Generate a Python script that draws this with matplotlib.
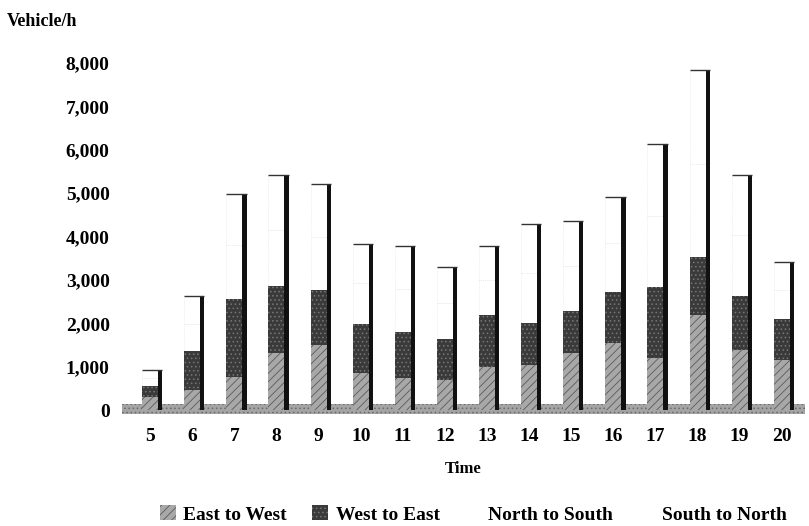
import matplotlib
matplotlib.use("Agg")
import matplotlib.pyplot as plt
import numpy as np
from matplotlib.patches import Patch

hours = ["5", "6", "7", "8", "9", "10", "11", "12", "13", "14", "15", "16", "17", "18", "19", "20"]
east_to_west = [310, 460, 770, 1310, 1500, 850, 730, 690, 1000, 1040, 1310, 1540, 1190, 2200, 1390, 1150]
west_to_east = [240, 900, 1790, 1550, 1260, 1130, 1070, 960, 1190, 970, 980, 1190, 1640, 1330, 1240, 940]
north_to_south = [190, 620, 1240, 1300, 1230, 950, 1000, 830, 820, 1150, 1040, 1120, 1650, 2150, 1400, 680]
south_to_north = [180, 650, 1190, 1250, 1230, 890, 990, 820, 780, 1140, 1020, 1070, 1660, 2150, 1390, 650]
yticks = [0, 1000, 2000, 3000, 4000, 5000, 6000, 7000, 8000]

plt.rcParams['font.family'] = ['Liberation Serif', 'DejaVu Serif']
plt.rcParams['hatch.linewidth'] = 0.6

fig = plt.figure(figsize=(8.09, 5.26), dpi=100)
ax = fig.add_axes([0.151, 0.208, 0.844, 0.705])

x = np.arange(len(hours))
w = 0.38
side = 0.10

ew = np.array(east_to_west)
we = np.array(west_to_east)
ns = np.array(north_to_south)
sn = np.array(south_to_north)
b1 = ew
b2 = ew + we
b3 = b2 + ns
total = b3 + sn

# floor
ax.axhspan(-80, 130, facecolor='#a4a4a4', edgecolor='#6a6a6a', hatch='....', lw=0, zorder=0)

ax.bar(x, ew, w, color='#a8a8a8', edgecolor='#5a5a5a', hatch='////', lw=0, zorder=3)
ax.bar(x, we, w, bottom=b1, color='#3a3a3a', edgecolor='#777777', hatch='....', lw=0, zorder=3)
ax.bar(x, ns, w, bottom=b2, color='white', edgecolor='#e2e2e2', lw=0.5, ls=':', zorder=2)
ax.bar(x, sn, w, bottom=b3, color='white', edgecolor='#e2e2e2', lw=0.5, ls=':', zorder=2)
# 3D side face of each column
ax.bar(x + w / 2 + side / 2, total, side, color='#111111', lw=0, zorder=3)
# top edge
ax.hlines(total, x - w / 2, x + w / 2 + side, color='#333333', lw=1.0, zorder=3)

ax.set_xlim(-0.665, 15.55)
ax.set_ylim(-150, 8400)
ax.set_yticks(yticks)
ax.set_yticklabels([f"{v:,}" for v in yticks], fontsize=14, fontweight='bold')
ax.set_xticks(x)
ax.set_xticklabels(hours, fontsize=14, fontweight='bold')
ax.tick_params(length=0, pad=8)
ax.tick_params(axis='y', pad=9)
for s in ax.spines.values():
    s.set_visible(False)

ax.set_xlabel("Time", fontsize=12, fontweight='bold', labelpad=12)
fig.text(0.008, 0.96, "Vehicle/h", fontsize=13, fontweight='bold', ha='left', va='center')

handles = [
    Patch(facecolor='#a8a8a8', edgecolor='#5a5a5a', hatch='////', lw=0),
    Patch(facecolor='#3a3a3a', edgecolor='#777777', hatch='....', lw=0),
    Patch(facecolor='white', edgecolor='white'),
    Patch(facecolor='white', edgecolor='white'),
]
labels = ["East to West", "West to East", "North to South", "South to North"]
fig.legend(handles, labels, loc='center', bbox_to_anchor=(0.585, 0.022), ncol=4,
           frameon=False, handlelength=0.8, handleheight=0.8,
           handletextpad=0.4, columnspacing=1.3, prop={'weight': 'bold', 'size': 14})

fig.savefig("out.png", dpi=100)
